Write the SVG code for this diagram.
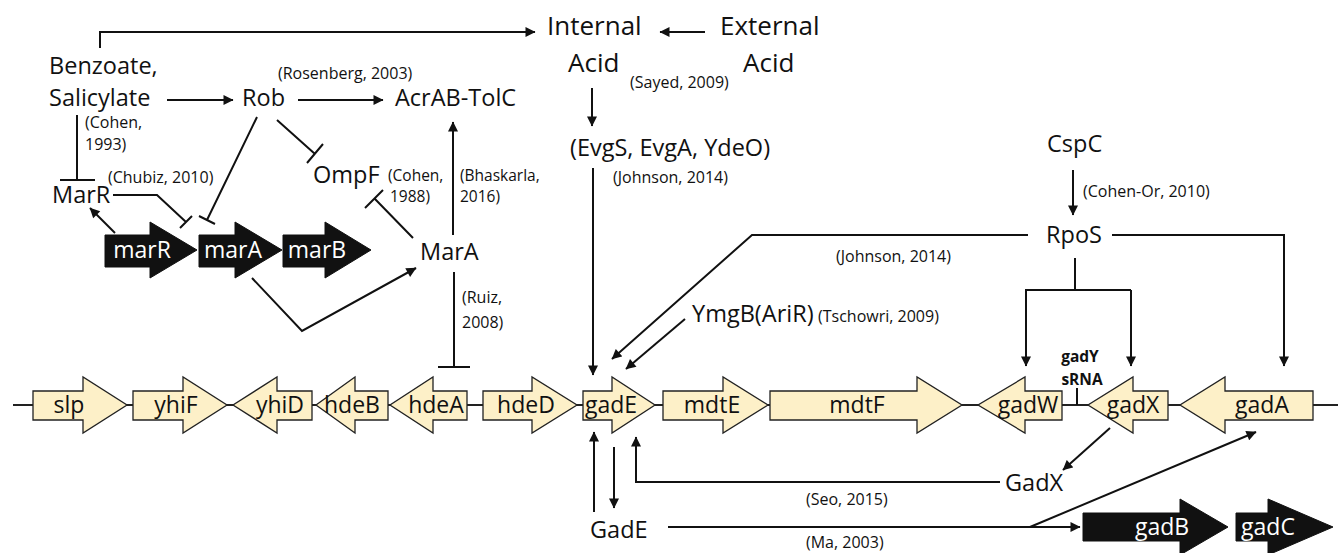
<svg xmlns="http://www.w3.org/2000/svg" width="1338" height="553" viewBox="0 0 1338 553">
<defs>
<style>
text{font-family:"Open Sans","Noto Sans","DejaVu Sans",sans-serif;fill:#111}
.big{font-size:26px}
.mid{font-size:23.5px}
.cite{font-size:16px}
.cite2{font-size:15.5px}
.gl{font-size:23px;text-anchor:middle}
.wl{font-size:23px;text-anchor:middle;fill:#fff}
.srna{font-size:15.5px;font-weight:bold;text-anchor:middle}
.gene{fill:#fdf0c8;stroke:#222;stroke-width:1.3}
.bgene{fill:#111;stroke:#111;stroke-width:1}
.ln{fill:none;stroke:#111;stroke-width:2}
.arr{fill:none;stroke:#111;stroke-width:2;marker-end:url(#ah)}
.bb{fill:none;stroke:#222;stroke-width:2}
</style>
<marker id="ah" viewBox="0 0 10 10" refX="9.5" refY="5" markerWidth="11" markerHeight="10" orient="auto" markerUnits="userSpaceOnUse">
<path d="M0,0 L10,5 L0,10 Z" fill="#111"/>
</marker>
</defs>
<rect width="1338" height="553" fill="#fff"/>

<g id="backbone"><line class="bb" x1="13" y1="405" x2="1338" y2="405"/></g>

<g id="connectors">
<path class="arr" d="M100,48 V32 H535"/>
<path class="arr" d="M705,32 H660"/>
<path class="arr" d="M592,88 V126"/>
<path class="arr" d="M593,168 V375"/>
<path class="arr" d="M167,100 H233"/>
<path class="arr" d="M298,100 H383"/>
<path class="ln" d="M77,115 V180 M60,180 H95"/>
<path class="ln" d="M277,120 L315,154 M307,163 L323,144"/>
<path class="ln" d="M257,117 L207,220 M199,216 L215,224"/>
<path class="ln" d="M113,195 H157 L186,222 M180,228 L192,216"/>
<path class="arr" d="M115,233 L90,208"/>
<path class="arr" d="M252,278 L302,331 L416,268"/>
<path class="arr" d="M453,235 V122"/>
<path class="ln" d="M413,238 L375,199 M365,208 L383,190"/>
<path class="ln" d="M454,272 V367 M438,367 H470"/>
<path class="arr" d="M1073,170 V215"/>
<path class="arr" d="M1028,235 H752 L612,359"/>
<path class="arr" d="M1112,235 H1284 V366"/>
<path class="ln" d="M1075,258 V290 M1025,290 H1131"/>
<path class="arr" d="M1026,290 V366"/>
<path class="arr" d="M1131,290 V366"/>
<path class="arr" d="M685,319 L626,369"/>
<path class="ln" d="M1077,388 V405"/>
<path class="arr" d="M1110,428 L1063,470"/>
<path class="arr" d="M1000,482 H636 V437"/>
<path class="arr" d="M594,512 V432"/>
<path class="arr" d="M614,447 V508"/>
<path class="arr" d="M668,527 H1080"/>
<path class="arr" d="M1030,527 L1256,432"/>
</g>

<g id="gene-slp"><polygon class="gene" points="33,391 83,391 83,377 127,405 83,433 83,420 33,420"/><text class="gl" x="69" y="413">slp</text></g>
<g id="gene-yhiF"><polygon class="gene" points="133,391 183,391 183,377 227,405 183,433 183,420 133,420"/><text class="gl" x="176" y="413">yhiF</text></g>
<g id="gene-yhiD"><polygon class="gene" points="312,391 277,391 277,377 233,405 277,433 277,420 312,420"/><text class="gl" x="280" y="413">yhiD</text></g>
<g id="gene-hdeB"><polygon class="gene" points="388,391 355,391 355,377 316,405 355,433 355,420 388,420"/><text class="gl" x="352" y="413">hdeB</text></g>
<g id="gene-hdeA"><polygon class="gene" points="467,391 433,391 433,377 390,405 433,433 433,420 467,420"/><text class="gl" x="436" y="413">hdeA</text></g>
<g id="gene-hdeD"><polygon class="gene" points="483,391 532,391 532,377 577,405 532,433 532,420 483,420"/><text class="gl" x="526" y="413">hdeD</text></g>
<g id="gene-gadE"><polygon class="gene" points="583,391 612,391 612,377 655,405 612,433 612,420 583,420"/><text class="gl" x="611" y="413">gadE</text></g>
<g id="gene-mdtE"><polygon class="gene" points="663,391 723,391 723,377 768,405 723,433 723,420 663,420"/><text class="gl" x="712" y="413">mdtE</text></g>
<g id="gene-mdtF"><polygon class="gene" points="770,391 917,391 917,377 962,405 917,433 917,420 770,420"/><text class="gl" x="857" y="413">mdtF</text></g>
<g id="gene-gadW"><polygon class="gene" points="1062,391 1025,391 1025,377 978,405 1025,433 1025,420 1062,420"/><text class="gl" x="1028" y="413">gadW</text></g>
<g id="gene-gadX"><polygon class="gene" points="1168,391 1133,391 1133,377 1088,405 1133,433 1133,420 1168,420"/><text class="gl" x="1133" y="413">gadX</text></g>
<g id="gene-gadA"><polygon class="gene" points="1313,391 1225,391 1225,377 1180,405 1225,433 1225,420 1313,420"/><text class="gl" x="1262" y="413">gadA</text></g>
<g id="gadY"><text class="srna" x="1080" y="362">gadY</text><text class="srna" x="1082" y="385">sRNA</text></g>

<g id="gene-marR"><polygon class="bgene" points="105,235 150,235 150,222 197,250 150,278 150,267 105,267"/><text class="wl" x="142" y="258">marR</text></g>
<g id="gene-marA"><polygon class="bgene" points="199,235 235,235 235,222 282,250 235,278 235,267 199,267"/><text class="wl" x="233" y="258">marA</text></g>
<g id="gene-marB"><polygon class="bgene" points="283,235 325,235 325,222 371,250 325,278 325,267 283,267"/><text class="wl" x="317" y="258">marB</text></g>
<g id="gene-gadB"><polygon class="bgene" points="1083,513 1180,513 1180,499 1228,527 1180,555 1180,541 1083,541"/><text class="wl" x="1162" y="535">gadB</text></g>
<g id="gene-gadC"><polygon class="bgene" points="1236,513 1268,513 1268,499 1333,527 1268,555 1268,541 1236,541"/><text class="wl" x="1268" y="535">gadC</text></g>

<g id="internal-acid"><text class="big" x="547" y="35">Internal</text><text class="big" x="568" y="72">Acid</text></g>
<g id="external-acid"><text class="big" x="720" y="35">External</text><text class="big" x="743" y="72">Acid</text></g>
<g id="benzoate"><text class="mid" x="49" y="74">Benzoate,</text><text class="mid" x="49" y="106">Salicylate</text></g>
<g id="rob"><text class="mid" x="242" y="106">Rob</text></g>
<g id="acrab"><text class="mid" x="395" y="106">AcrAB-TolC</text></g>
<g id="marR-protein"><text class="mid" x="52" y="203">MarR</text></g>
<g id="ompF"><text class="mid" x="313" y="183">OmpF</text></g>
<g id="marA-protein"><text class="mid" x="420" y="260">MarA</text></g>
<g id="evg"><text class="mid" x="570" y="156">(EvgS, EvgA, YdeO)</text></g>
<g id="cspC"><text class="mid" x="1047" y="152">CspC</text></g>
<g id="rpoS"><text class="mid" x="1046" y="243">RpoS</text></g>
<g id="ymgB"><text class="mid" x="692" y="322">YmgB(AriR)</text></g>
<g id="gadX-protein"><text class="mid" x="1005" y="491">GadX</text></g>
<g id="gadE-protein"><text class="mid" x="590" y="538">GadE</text></g>

<g id="citations">
<text class="cite" x="630" y="88">(Sayed, 2009)</text>
<text class="cite" x="613" y="183">(Johnson, 2014)</text>
<text class="cite" x="278" y="79">(Rosenberg, 2003)</text>
<text class="cite" x="85" y="128">(Cohen,</text>
<text class="cite" x="85" y="150">1993)</text>
<text class="cite" x="108" y="183">(Chubiz, 2010)</text>
<text class="cite2" x="388" y="181">(Cohen,</text>
<text class="cite2" x="390" y="202">1988)</text>
<text class="cite2" x="460" y="181">(Bhaskarla,</text>
<text class="cite2" x="460" y="202">2016)</text>
<text class="cite" x="462" y="303">(Ruiz,</text>
<text class="cite" x="462" y="328">2008)</text>
<text class="cite" x="1083" y="197">(Cohen-Or, 2010)</text>
<text class="cite" x="836" y="262">(Johnson, 2014)</text>
<text class="cite" x="818" y="322">(Tschowri, 2009)</text>
<text class="cite" x="806" y="505">(Seo, 2015)</text>
<text class="cite" x="806" y="548">(Ma, 2003)</text>
</g>
</svg>
